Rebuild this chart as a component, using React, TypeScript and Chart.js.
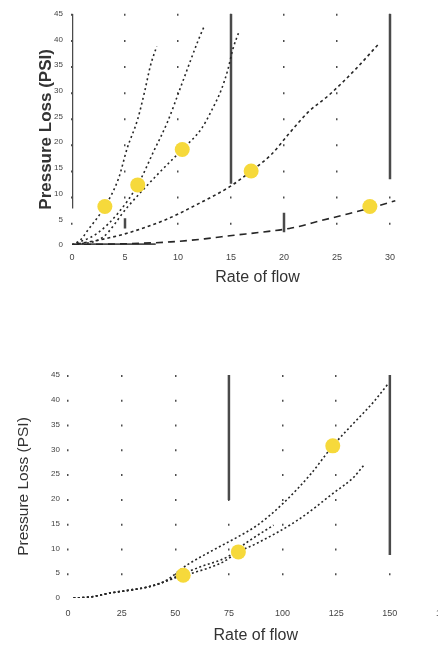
import React, { useEffect, useRef } from 'react';
import { Chart, registerables } from 'chart.js';

Chart.register(...registerables);

const FONT = "'Liberation Sans', Arial, Helvetica, sans-serif";
const YELLOW = '#F6D93B';
const LINE = '#262626';
const FRAME = '#4a4a4a';

// ---------- Top chart ----------
const topXTicks = [0, 5, 10, 15, 20, 25, 30, 35];
const topYTicks = [0, 5, 10, 15, 20, 25, 30, 35, 40, 45];

const topC1X = [0, 0.8, 1.5, 3.1, 4.4, 5.2, 6.2, 6.9, 7.4, 8.0];
const topC1Y = [0, 1.0, 2.9, 7.5, 13.0, 18.8, 24.5, 30.3, 34.9, 38.7];
const topC2X = [0, 2.4, 4.3, 6.2, 7.7, 9.0, 10.3, 11.2, 11.9, 12.5];
const topC2Y = [0, 2.3, 6.1, 11.7, 18.2, 23.9, 31.0, 36.0, 39.8, 42.7];
const topC3X = [0, 2.9, 5.2, 8.1, 10.4, 12.2, 13.1, 14.1, 14.7, 15.2, 15.7];
const topC3Y = [0, 1.5, 7.3, 13.8, 18.6, 22.6, 25.9, 30.3, 34.1, 38.3, 41.2];
const topC4X = [0, 3.3, 5.2, 8.7, 11.9, 15.0, 16.9, 18.8, 20.4, 22.3, 24.2, 26.7, 29.0];
const topC4Y = [0, 1.3, 2.3, 4.8, 8.0, 11.5, 14.4, 17.6, 21.5, 25.9, 29.1, 34.1, 39.3];
const topC5X = [0, 9.3, 12.5, 15.3, 17.9, 20.7, 23.6, 26.1, 28.3, 30.5];
const topC5Y = [0, 0.6, 1.2, 1.9, 2.5, 3.3, 4.8, 6.1, 7.3, 8.6];

const topMarkX = [3.1, 6.2, 10.4, 16.9, 28.1];
const topMarkY = [7.5, 11.7, 18.6, 14.4, 7.5];

// frame segments (x1, x2, y1, y2)
const topSegX1 = [0, 15, 30, 0, 5, 20];
const topSegX2 = [0, 15, 30, 7.9, 5, 20];
const topSegY1 = [7.1, 11.9, 12.8, 0.1, 3.2, 2.5];
const topSegY2 = [45, 45, 45, 0.1, 5.2, 6.3];

// ---------- Bottom chart ----------
const botXTicks = [0, 25, 50, 75, 100, 125, 150, 175];
const botYTicks = [0, 5, 10, 15, 20, 25, 30, 35, 40, 45];

const botAX = [2.5, 10.3, 19.6, 29.0, 36.9, 44.4, 55.6, 67.8, 79.0, 88.3, 100.5, 113.1, 123.4, 133.2, 142.5, 149.5];
const botAY = [0, 0.2, 1.0, 1.6, 2.2, 3.2, 6.7, 9.7, 12.3, 14.7, 19.2, 25.0, 30.7, 35.3, 39.6, 43.4];
const botBX = [2.5, 10.3, 19.6, 29.0, 36.9, 44.4, 51.0, 61.7, 74.3, 83.6, 95.8];
const botBY = [0, 0.2, 1.0, 1.6, 2.2, 3.2, 4.4, 6.3, 8.3, 11.3, 14.7];
const botCX = [2.5, 10.3, 19.6, 29.0, 36.9, 44.4, 51.0, 57.0, 72.4, 79.4, 88.3, 107.0, 123.8, 133.2, 137.9];
const botCY = [0, 0.2, 1.0, 1.6, 2.2, 3.2, 4.2, 4.9, 7.3, 9.3, 11.1, 15.7, 21.2, 24.4, 26.8];

const botMarkX = [53.7, 79.4, 123.4];
const botMarkY = [4.6, 9.3, 30.7];

const botSegX1 = [75, 150];
const botSegX2 = [75, 150];
const botSegY1 = [19.8, 8.7];
const botSegY2 = [45, 45];

// ---------- helpers ----------
const zip = (xs: number[], ys: number[]) => xs.map((x, i) => ({ x, y: ys[i] }));

function curve(xs: number[], ys: number[], dash: number[]) {
  return {
    type: 'line',
    data: zip(xs, ys),
    borderColor: LINE,
    borderWidth: 1.6,
    borderDash: dash,
    pointRadius: 0,
    cubicInterpolationMode: 'monotone',
    fill: false,
    order: 2,
  };
}

function segments(x1: number[], x2: number[], y1: number[], y2: number[]) {
  return x1.map((_, i) => ({
    type: 'line',
    data: [
      { x: x1[i], y: y1[i] },
      { x: x2[i], y: y2[i] },
    ],
    borderColor: FRAME,
    borderWidth: 2.5,
    pointRadius: 0,
    fill: false,
    order: 3,
  }));
}

function markers(xs: number[], ys: number[]) {
  return {
    type: 'scatter',
    data: zip(xs, ys),
    pointRadius: 7.5,
    pointHoverRadius: 7.5,
    pointBackgroundColor: YELLOW,
    pointBorderWidth: 0,
    showLine: false,
    order: 0,
  };
}

interface Cfg {
  xTicks: number[];
  yTicks: number[];
  xMax: number;
  yMax: number;
  padTop: number;
  padRight: number;
  yWidth: number;
  xHeight: number;
  xTickPad: number;
  yTickPad: number;
  xTitlePadBottom: number;
  yTitleSize: number;
  yTitleWeight: string;
  yTitlePadTop: number;
  gridDash: number[];
  datasets: any[];
}

function buildConfig(c: Cfg): any {
  return {
    type: 'line',
    data: { datasets: c.datasets },
    options: {
      animation: false,
      responsive: false,
      devicePixelRatio: 1,
      layout: { padding: { top: c.padTop, right: c.padRight, left: 0, bottom: 0 } },
      plugins: { legend: { display: false }, tooltip: { enabled: false } },
      scales: {
        x: {
          type: 'linear',
          min: 0,
          max: c.xMax,
          afterBuildTicks: (s: any) => {
            s.ticks = c.xTicks.map((v) => ({ value: v }));
          },
          afterFit: (s: any) => {
            s.height = c.xHeight;
          },
          grid: { color: '#4d4d4d', lineWidth: 1.5, drawTicks: false },
          border: { display: false, dash: c.gridDash },
          ticks: { padding: c.xTickPad, font: { size: 9, family: FONT }, color: '#444', maxRotation: 0, autoSkip: false },
          title: {
            display: true,
            text: 'Rate of flow',
            font: { size: 16, family: FONT },
            color: '#333',
            padding: { top: 0, bottom: c.xTitlePadBottom },
          },
        },
        y: {
          type: 'linear',
          min: 0,
          max: c.yMax,
          afterBuildTicks: (s: any) => {
            s.ticks = c.yTicks.map((v) => ({ value: v }));
          },
          afterFit: (s: any) => {
            s.width = c.yWidth;
          },
          grid: { display: false, drawTicks: false },
          border: { display: false },
          ticks: { padding: c.yTickPad, font: { size: 8, family: FONT }, color: '#444' },
          title: {
            display: true,
            text: 'Pressure Loss (PSI)',
            font: { size: c.yTitleSize, family: FONT, weight: c.yTitleWeight },
            color: '#333',
            padding: { top: c.yTitlePadTop, bottom: 0 },
          },
        },
      },
    },
  };
}

function ChartCanvas({ cfg, width, height, top }: { cfg: () => any; width: number; height: number; top: number }) {
  const ref = useRef<HTMLCanvasElement>(null);
  useEffect(() => {
    const chart = new Chart(ref.current as HTMLCanvasElement, cfg());
    return () => chart.destroy();
  }, []);
  return (
    <canvas
      ref={ref}
      width={width}
      height={height}
      style={{ display: 'block', position: 'absolute', left: 0, top, width, height }}
    />
  );
}

const topCfg = () =>
  buildConfig({
    xTicks: topXTicks,
    yTicks: topYTicks,
    xMax: 35,
    yMax: 45,
    padTop: 10,
    padRight: 8,
    yWidth: 72,
    xHeight: 50,
    xTickPad: 7,
    yTickPad: 9,
    xTitlePadBottom: 7.4,
    yTitleSize: 17,
    yTitleWeight: 'bold',
    yTitlePadTop: 36,
    gridDash: [2, 24.11],
    datasets: [
      markers(topMarkX, topMarkY),
      curve(topC1X, topC1Y, [2, 3]),
      curve(topC2X, topC2Y, [2, 3]),
      curve(topC3X, topC3Y, [2, 3]),
      curve(topC4X, topC4Y, [3, 3]),
      curve(topC5X, topC5Y, [7, 5]),
      ...segments(topSegX1, topSegX2, topSegY1, topSegY2),
    ],
  });

const botCfg = () =>
  buildConfig({
    xTicks: botXTicks,
    yTicks: botYTicks,
    xMax: 175,
    yMax: 45,
    padTop: 75,
    padRight: 8,
    yWidth: 68,
    xHeight: 48,
    xTickPad: 10,
    yTickPad: 8,
    xTitlePadBottom: 0.4,
    yTitleSize: 15.5,
    yTitleWeight: 'normal',
    yTitlePadTop: 14,
    gridDash: [2, 22.78],
    datasets: [
      markers(botMarkX, botMarkY),
      curve(botAX, botAY, [2, 2.5]),
      curve(botBX, botBY, [2, 2.5]),
      curve(botCX, botCY, [2, 2.5]),
      ...segments(botSegX1, botSegX2, botSegY1, botSegY2),
    ],
  });

export default function App() {
  return (
    <div
      style={{
        position: 'absolute',
        left: 0,
        top: 0,
        width: 438,
        height: 646,
        overflow: 'hidden',
        background: '#fff',
      }}
    >
      <ChartCanvas cfg={topCfg} width={455} height={295} top={0} />
      <ChartCanvas cfg={botCfg} width={461} height={346} top={300} />
    </div>
  );
}
